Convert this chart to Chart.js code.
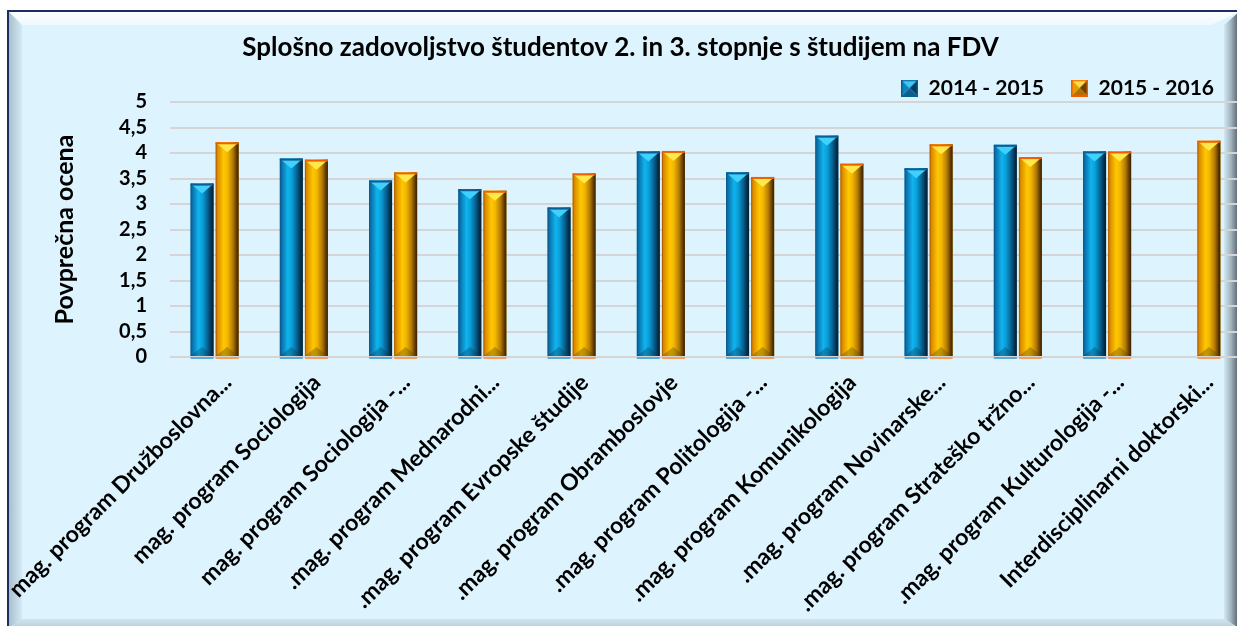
<!DOCTYPE html>
<html>
<head>
<meta charset="utf-8">
<script src="https://cdn.jsdelivr.net/npm/chart.js@4.4.1/dist/chart.umd.min.js"></script>
<style>
    body { margin: 0; background: #fff; overflow: hidden; width: 1237px; height: 626px; position: relative; }
    #frame { position: absolute; left: 7px; top: 10px; width: 1230px; height: 616px; background: #ddf3fd;
             border-top: 2px solid #1b2e63; border-left: 2px solid #1b2e63; overflow: hidden; }
    .bevel { position: absolute; }
    #bvTop { left: 0; top: 0; width: 1230px; height: 13px; background: linear-gradient(#fdfeff, #eef9fe);
             clip-path: polygon(0 0, 100% 0, calc(100% - 28px) 100%, 13px 100%); }
    #bvLeft { left: 0; top: 0; width: 13px; height: 616px; background: linear-gradient(to right, #a9bfcd, #d3e9f4);
              clip-path: polygon(0 0, 100% 13px, 100% calc(100% - 9px), 0 100%); }
    #bvRight { right: 0; top: 0; width: 15px; height: 616px; background: linear-gradient(to right, #d2e8f2, #a3b5bf 45%, #4d5a62);
               clip-path: polygon(0 13px, 100% 0, 100% 100%, 0 calc(100% - 9px)); }
    #bvBottom { left: 0; bottom: 0; width: 1230px; height: 9px; background: linear-gradient(#cfe4ee, #b9cfda);
                clip-path: polygon(13px 0, calc(100% - 15px) 0, 100% 100%, 0 100%); }
    #chart { position: absolute; left: 0; top: 0; }
</style>
</head>
<body>
<div id="frame">
    <div class="bevel" id="bvTop"></div>
    <div class="bevel" id="bvLeft"></div>
    <div class="bevel" id="bvRight"></div>
    <div class="bevel" id="bvBottom"></div>
</div>
<canvas id="chart" width="1260" height="626"></canvas>
<script>
const titleText = 'Splošno zadovoljstvo študentov 2. in 3. stopnje s študijem na FDV';
const yAxisTitle = 'Povprečna ocena';
const categories = [
    'mag. program Družboslovna...',
    'mag. program Sociologija',
    'mag. program Sociologija -...',
    '.mag. program Mednarodni...',
    '.mag. program Evropske študije',
    '.mag. program Obramboslovje',
    '.mag. program Politologija -...',
    '.mag. program Komunikologija',
    '.mag. program Novinarske...',
    '.mag. program Strateško tržno...',
    '.mag. program Kulturologija -...',
    'Interdisciplinarni doktorski...'
];
const seriesLabels = ['2014 - 2015', '2015 - 2016'];
const scores2014 = [3.40, 3.89, 3.46, 3.29, 2.93, 4.03, 3.62, 4.34, 3.70, 4.16, 4.03, null];
const scores2015 = [4.21, 3.87, 3.62, 3.26, 3.60, 4.04, 3.53, 3.79, 4.17, 3.92, 4.03, 4.24];
const yTickLabels = ['0', '0,5', '1', '1,5', '2', '2,5', '3', '3,5', '4', '4,5', '5'];

const FONT = 'Lato';

// look of the two bar series (gradient across the bar, cap, base)
const looks = [
    {
        flat: '#0a8fd0',
        stops: [[0, '#0d4f7f'], [0.07, '#0a6ea8'], [0.35, '#10b4ef'], [0.52, '#0a9fd8'], [0.75, '#06608f'], [0.92, '#032d48'], [1, '#0a2030']],
        cap: '#3fd0fb', rim: '#0c5d93', bottom: 'rgba(10, 60, 90, 0.35)', baseLine: '#5aa9e0',
        swTop: '#3fc8f4', swLeft: '#0b84c2', swRight: '#053e63', swBottom: '#0a5f90'
    },
    {
        flat: '#f0b400',
        stops: [[0, '#a04a00'], [0.07, '#d98800'], [0.35, '#ffc800'], [0.52, '#f2b600'], [0.75, '#b37a00'], [0.92, '#5a3600'], [1, '#3a2000']],
        cap: '#ffe84a', rim: '#f06000', bottom: 'rgba(90, 70, 0, 0.35)', baseLine: '#f5a05a',
        swTop: '#ffe040', swLeft: '#e89a00', swRight: '#6a4300', swBottom: '#b07000'
    }
];

function makeSwatch(look) {
    const c = document.createElement('canvas');
    c.width = 17;
    c.height = 17;
    const g = c.getContext('2d');
    const s = 17, m = 8.5;
    const tri = (pts, col) => {
        g.fillStyle = col;
        g.beginPath();
        g.moveTo(pts[0][0], pts[0][1]);
        g.lineTo(pts[1][0], pts[1][1]);
        g.lineTo(pts[2][0], pts[2][1]);
        g.closePath();
        g.fill();
    };
    tri([[0, 0], [s, 0], [m, m]], look.swTop);
    tri([[0, 0], [0, s], [m, m]], look.swLeft);
    tri([[s, 0], [s, s], [m, m]], look.swRight);
    tri([[0, s], [s, s], [m, m]], look.swBottom);
    g.strokeStyle = look.rim;
    g.lineWidth = 1.5;
    g.strokeRect(0.75, 0.75, s - 1.5, s - 1.5);
    return c;
}
const swatches = looks.map(makeSwatch);

// paints the bevelled look over each bar the library has placed
const barBevel = {
    id: 'barBevel',
    afterDatasetsDraw(chart) {
        const ctx = chart.ctx;
        chart.data.datasets.forEach((ds, i) => {
            const look = looks[i];
            chart.getDatasetMeta(i).data.forEach((bar, j) => {
                if (ds.data[j] == null) return;
                const w = bar.width, l = bar.x - w / 2, r = bar.x + w / 2, t = bar.y, b = bar.base;
                ctx.save();
                const g = ctx.createLinearGradient(l, 0, r, 0);
                look.stops.forEach(([o, c]) => g.addColorStop(o, c));
                ctx.fillStyle = g;
                ctx.fillRect(l, t, w, b - t);
                ctx.fillStyle = look.bottom;
                ctx.beginPath();
                ctx.moveTo(l, b); ctx.lineTo(r, b); ctx.lineTo(bar.x, b - 9); ctx.closePath();
                ctx.fill();
                ctx.fillStyle = look.cap;
                ctx.beginPath();
                ctx.moveTo(l + 1, t + 1); ctx.lineTo(r - 1, t + 1); ctx.lineTo(bar.x, t + 10); ctx.closePath();
                ctx.fill();
                ctx.fillStyle = look.rim;
                ctx.fillRect(l, t, w, 2);
                ctx.fillStyle = look.baseLine;
                ctx.fillRect(l, b + 1, w, 2);
                ctx.restore();
            });
        });
    }
};

new Chart(document.getElementById('chart'), {
    type: 'bar',
    data: {
        labels: categories,
        datasets: [
            { label: seriesLabels[0], data: scores2014, backgroundColor: looks[0].flat, borderWidth: 0,
              categoryPercentage: 0.5625, barPercentage: 0.916 },
            { label: seriesLabels[1], data: scores2015, backgroundColor: looks[1].flat, borderWidth: 0,
              categoryPercentage: 0.5625, barPercentage: 0.916 }
        ]
    },
    options: {
        responsive: false,
        animation: false,
        layout: { padding: { left: 0, right: 19, top: 0, bottom: 0 } },
        plugins: {
            title: {
                display: true,
                text: titleText,
                color: '#000',
                font: { family: FONT, size: 26, weight: 'bold', lineHeight: 1 },
                padding: { top: 35, bottom: -10.5 }
            },
            legend: {
                position: 'top',
                align: 'end',
                maxHeight: 51.5,
                labels: {
                    usePointStyle: true,
                    boxWidth: 17,
                    boxHeight: 17,
                    padding: 27,
                    color: '#000',
                    font: { family: FONT, size: 21, weight: 'bold' },
                    generateLabels(chart) {
                        const items = Chart.defaults.plugins.legend.labels.generateLabels(chart);
                        items.forEach(it => { it.pointStyle = swatches[it.datasetIndex]; });
                        return items;
                    }
                }
            },
            tooltip: { enabled: false }
        },
        scales: {
            x: {
                grid: { display: false },
                border: { display: false },
                ticks: {
                    color: '#000',
                    font: { family: FONT, size: 23, weight: 'bold' },
                    maxRotation: 45,
                    minRotation: 45,
                    autoSkip: false,
                    labelOffset: 13,
                    padding: 4
                },
                afterFit(scale) {
                    scale.height = 269;
                    scale.paddingLeft = 0;
                    scale.paddingRight = 0;
                }
            },
            y: {
                min: 0,
                max: 5,
                ticks: {
                    stepSize: 0.5,
                    autoSkip: false,
                    color: '#000',
                    font: { family: FONT, size: 20, weight: 'bold' },
                    padding: 23,
                    callback: (v, i) => yTickLabels[i]
                },
                grid: { color: '#d5d5d5', lineWidth: 2, drawTicks: false },
                border: { display: false },
                title: {
                    display: true,
                    text: yAxisTitle,
                    color: '#000',
                    font: { family: FONT, size: 25, weight: 'bold' },
                    padding: { top: 50, bottom: 0 }
                },
                afterFit(scale) { scale.width = 170; }
            }
        }
    },
    plugins: [barBevel]
});
</script>
</body>
</html>
